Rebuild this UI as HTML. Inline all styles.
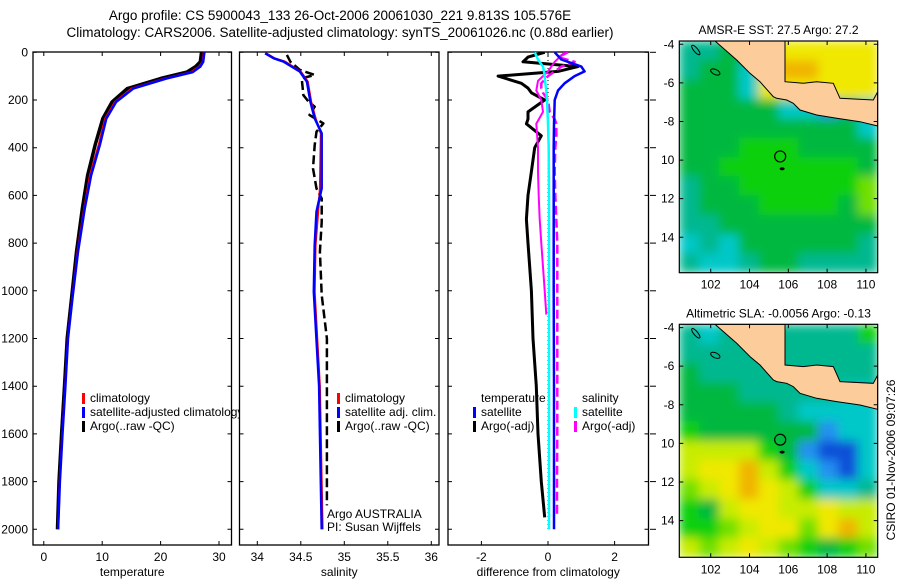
<!DOCTYPE html>
<html><head><meta charset="utf-8">
<style>
html,body{margin:0;padding:0;background:#fff;}
svg{display:block;font-family:"Liberation Sans",sans-serif;}
text{font-size:12px;fill:#000;}
</style></head>
<body>
<svg id="chart" width="900" height="580" viewBox="0 0 900 580" xmlns="http://www.w3.org/2000/svg">
<defs>
<clipPath id="cp1"><rect x="33" y="52" width="206" height="493"/></clipPath>
<clipPath id="cp2"><rect x="239.5" y="52" width="200" height="493"/></clipPath>
<clipPath id="cp3"><rect x="448" y="52" width="200.5" height="493"/></clipPath>
<clipPath id="cm1"><rect x="679.3" y="41" width="198.4" height="231.7"/></clipPath>
<clipPath id="cm2"><rect x="679.3" y="324.3" width="198.4" height="233"/></clipPath>
<filter id="soft" x="-5%" y="-5%" width="110%" height="110%"><feGaussianBlur stdDeviation="5" edgeMode="duplicate"/></filter>
</defs>
<text x="340" y="20" text-anchor="middle" style="font-size:13.5px">Argo profile: CS 5900043_133 26-Oct-2006 20061030_221 9.813S 105.576E</text>
<text x="340" y="37" text-anchor="middle" style="font-size:13.5px">Climatology: CARS2006. Satellite-adjusted climatology: synTS_20061026.nc (0.88d earlier)</text>
<g id="g1"></g>
<g id="g2"></g>
<g id="g3"></g>
<g id="m1"></g>
<g id="m2"></g>
<text transform="translate(895,460) rotate(-90)" text-anchor="middle">CSIRO 01-Nov-2006 09:07:26</text>
</svg>
<script>
// ---- profile data ----
const depthT = [0,40,60,83,110,152,208,278,388,516,656,837,1033,1200,1400,1600,1800,2000];
const tempSat = [27.5,27.3,26.8,25.5,21.0,15.3,12.4,10.7,9.6,8.1,7.0,5.85,4.9,4.15,3.7,3.2,2.75,2.45];
const tempClim = [27.4,27.2,26.6,25.2,20.7,15.0,12.2,10.5,9.4,7.9,6.9,5.75,4.85,4.1,3.65,3.15,2.7,2.42];
const tempArgo = [27.0,26.8,26.0,24.5,20.0,14.3,11.7,10.1,8.8,7.5,6.6,5.6,4.75,4.0,3.55,3.05,2.6,2.35];
const depthS = [11,40,74,95,109,180,207,228,263,298,333,389,487,571,613,712,836,1017,1200,1400,1600,1800,1900];
const salArgo = [34.34,34.38,34.49,34.66,34.51,34.53,34.59,34.66,34.6,34.76,34.68,34.66,34.64,34.68,34.74,34.74,34.72,34.74,34.8,34.8,34.8,34.8,34.8];
const depthSC = [4,25,39,81,123,207,277,340,570,668,808,1004,1400,1800,2000];
const salSat = [34.09,34.19,34.3,34.49,34.57,34.61,34.66,34.74,34.74,34.68,34.66,34.65,34.71,34.73,34.74];
const salClim = [34.1,34.2,34.32,34.5,34.58,34.62,34.67,34.73,34.72,34.7,34.67,34.66,34.72,34.74,34.75];
const depthD1 = [0,30,50,60,80,100,130,160,200,300,400,600,800,1000,1400,1800,2000];
const diffTSat = [0.2,0.4,0.8,1.0,1.1,0.8,0.5,0.3,0.2,0.18,0.17,0.17,0.17,0.17,0.18,0.18,0.18];
const diffSSat = [-0.4,-0.3,-0.2,-0.15,-0.12,-0.1,-0.08,-0.05,-0.03,0,0.02,0.03,0.03,0.03,0.03,0.03,0.03];
const depthD2 = [0,20,40,60,80,100,130,150,170,200,250,280,300,350,400,500,600,700,800,900,1000,1200,1400,1600,1800,1950];
const diffTArgo = [-0.1,-0.6,-0.75,0.9,0.3,-1.5,-0.8,-0.6,-0.5,-0.1,-0.6,-0.6,-0.65,-0.2,-0.4,-0.5,-0.6,-0.65,-0.6,-0.55,-0.5,-0.45,-0.35,-0.3,-0.2,-0.1];
const diffSArgoDash = [0.6,0.3,0.8,0.4,0.2,0.0,-0.2,-0.2,-0.15,0.0,0.05,0.2,0.25,0.25,0.22,0.2,0.22,0.25,0.28,0.28,0.28,0.28,0.28,0.28,0.27,0.27];
const depthD3 = [0,40,80,120,160,200,250,300,400,500,600,700,800,900,1000,1100];
const diffSArgo = [0.5,0.2,0.0,-0.3,-0.35,-0.2,-0.15,-0.35,-0.3,-0.3,-0.28,-0.25,-0.2,-0.15,-0.1,-0.05];
const depthTicks = [0,200,400,600,800,1000,1200,1400,1600,1800,2000];
const tTicks = [0,10,20,30];
const sTicks = [34,34.5,35,35.5,36];
const dTicks = [-2,0,2];
// ---- map data (color code grids, 10 cols x 12 rows) ----
const lonTicks = [102,104,106,108,110];
const latTicks = [-4,-6,-8,-10,-12,-14];
const latLabels = ['-4','-6','-8','10','12','14'];
const sstGrid = ["ttggoYYYYY","tggcYooYYY","gggcYYYYYY","gggggccbtc","gggggggggc","gggGGGgggg","ggGGGGGGGg","tggGGGGGGl","tgggGGGGgl","ttgggggggg","ctcggggggt","tcctggtttt"];
const slaGrid = ["tctttttttG","tttttttttt","gttttttttt","gggtttttcc","gggggtcccc","Gggggggbcc","yyyyGgbBBc","yYYoyGcbBc","lyYoYyGcct","GgyYYyyYyy","GGlyYYlYoy","ylyYylGgGl"];
const palette = {c:'#00c8c8',t:'#00b890',g:'#00b840',G:'#10d010',l:'#70e000',y:'#c8ec00',Y:'#f0e800',o:'#f0b400',b:'#2090f0',B:'#1050d8'};

const NS='http://www.w3.org/2000/svg';
function el(tag, attrs, parent){const e=document.createElementNS(NS,tag);for(const k in attrs)e.setAttribute(k,attrs[k]);parent.appendChild(e);return e;}
const yD = d => 52.3 + d*0.2385;
const xT = t => 43.8 + t*5.84;
const xS = s => 257.3 + (s-34)*87;
const xD = v => 548 + v*33.3;

function panel(g, x0, x1, xs, ticks, labelY, title){
  const r=el('rect',{x:x0,y:52,width:x1-x0,height:493,fill:'#fff',stroke:'#000','stroke-width':1.3},g);
  
  
  depthTicks.forEach(d=>{
    const y=yD(d);
    const a=el('path',{d:`M${x0},${y}h4M${x1},${y}h-4`,stroke:'#000'},g);
    
    
    if(labelY){
      const t=el('text',{x:x0-5,y:y+4,'text-anchor':'end'},g);t.textContent=d;
      
      
    }
  });
  ticks.forEach(v=>{
    const x=xs(v);
    const a=el('path',{d:`M${x},545v-4M${x},52v4`,stroke:'#000'},g);
    
    
    const t=el('text',{x:x,y:561,'text-anchor':'middle'},g);t.textContent=v;
    
    
  });
  const t=el('text',{x:(x0+x1)/2,y:576,'text-anchor':'middle'},g);t.textContent=title;
  
  
}
function line(g, depths, vals, xs, color, w, dash, name){
  const d=depths.map((dd,i)=>(i?'L':'M')+xs(vals[i]).toFixed(1)+','+yD(dd).toFixed(1)).join('');
  const p=el('path',{d:d,fill:'none',stroke:color,'stroke-width':w,'stroke-linejoin':'round'},g);
  if(dash)p.setAttribute('stroke-dasharray',dash);
  
  
}
function legend(g, x, y, color, label, name){
  const r=el('rect',{x:x,y:y-9,width:3,height:11,fill:color},g);
  
  
  const t=el('text',{x:x+8,y:y},g);t.textContent=label;
  
  
}

// Panel 1
const g1=document.getElementById('g1');
panel(g1,33,231.5,xT,tTicks,true,'temperature');
const c1=el('g',{'clip-path':'url(#cp1)'},g1);
line(c1,depthT,tempArgo,xT,'#000',3.5,null,'temp-argo-line');
line(c1,depthT,tempClim,xT,'#f00',2,null,'temp-climatology-line');
line(c1,depthT,tempSat,xT,'#00f',2.5,null,'temp-satellite-line');
legend(c1,82,402,'#f00','climatology','legend-climatology');
legend(c1,82,416,'#00f','satellite-adjusted climatology','legend-satellite-adjusted');
legend(c1,82,430,'#000','Argo(..raw -QC)','legend-argo');

// Panel 2
const g2=document.getElementById('g2');
panel(g2,239.5,439,xS,sTicks,false,'salinity');
const c2=el('g',{'clip-path':'url(#cp2)'},g2);
line(c2,depthS,salArgo,xS,'#000',2.5,'9,4','sal-argo-line');
line(c2,depthSC,salClim,xS,'#f00',2,null,'sal-climatology-line');
line(c2,depthSC,salSat,xS,'#00f',2.5,null,'sal-satellite-line');
legend(c2,337,402,'#f00','climatology','legend-climatology');
legend(c2,337,416,'#00f','satellite adj. clim.','legend-satellite-adj');
legend(c2,337,430,'#000','Argo(..raw -QC)','legend-argo');
[['Argo AUSTRALIA',518],['PI: Susan Wijffels',531]].forEach(a=>{
  const t=el('text',{x:327,y:a[1]},g2);t.textContent=a[0];
  
  
});

// Panel 3
const g3=document.getElementById('g3');
panel(g3,448,648.5,xD,dTicks,false,'difference from climatology');
depthTicks.forEach(d=>{const a=el('path',{d:`M650,${yD(d)}h6`,stroke:'#000'},g3);
  
  });
const c3=el('g',{'clip-path':'url(#cp3)'},g3);
const z=el('path',{d:`M${xD(0)},56V530`,stroke:'#000','stroke-dasharray':'1,3'},c3);


line(c3,depthD2,diffTArgo,xD,'#000',3,null,'diff-temp-argo-line');
line(c3,depthD3,diffSArgo,xD,'#f0f',2,null,'diff-sal-argo-solid-line');
line(c3,depthD2,diffSArgoDash,xD,'#f0f',2.5,'9,4','diff-sal-argo-line');
line(c3,depthD1,diffTSat,xD,'#00f',2.5,null,'diff-temp-satellite-line');
line(c3,depthD1,diffSSat,xD,'#0ff',2.5,null,'diff-sal-satellite-line');
const tt=el('text',{x:481,y:402},c3);tt.textContent='temperature';


legend(c3,473,416,'#00f','satellite','legend-temp-satellite');
legend(c3,473,430,'#000','Argo(-adj)','legend-temp-argo');
const st=el('text',{x:582,y:402},c3);st.textContent='salinity';


legend(c3,574,416,'#0ff','satellite','legend-sal-satellite');
legend(c3,574,430,'#f0f','Argo(-adj)','legend-sal-argo');

// Maps
const land=[[165,63],[375,63],[375,185],[430,190],[470,185],[520,190],[540,235],[640,240],[653,215],[653,318],[600,305],[530,295],[470,285],[420,270],[400,250],[380,240],[350,235],[340,230],[300,185],[270,160],[230,120]];
function map(g, y0, y1, grid, title, clipId){
  const x0=679.3,x1=877.7;
  const cw=(x1-x0)/10,ch=(y1-y0)/12;
  const c=el('g',{'clip-path':`url(#${clipId})`},g);
  const f=el('g',{filter:'url(#soft)'},c);
  grid.forEach((row,r)=>{[...row].forEach((k,col)=>{
    const cell=el('rect',{x:(x0+col*cw).toFixed(1),y:(y0+r*ch).toFixed(1),width:(cw+0.6).toFixed(1),height:(ch+0.6).toFixed(1),fill:palette[k]},f);
    
    
  });});
  const pts=land.map(p=>(p[0]/3-19.3+x0).toFixed(1)+','+(p[1]/3-21+y0).toFixed(1)).join(' ');
  const lp=el('polygon',{points:pts,fill:'#fccc9a',stroke:'#000','stroke-width':1},c);
  
  
  const isl=el('ellipse',{cx:x0+16.5,cy:y0+9,rx:2,ry:6,fill:'none',stroke:'#000',transform:`rotate(-40 ${x0+16.5} ${y0+9})`},c);
  
  
  const isl2=el('ellipse',{cx:x0+36,cy:y0+31,rx:5,ry:2.5,fill:'none',stroke:'#000',transform:`rotate(25 ${x0+36} ${y0+31})`},c);
  
  
  const lx=lon=>x0+(lon-100.38)*19.4;
  const ly=lat=>y0+(-3.83-lat)*19.3;
  const circ=el('circle',{cx:lx(105.58),cy:ly(-9.81),r:5.5,fill:'none',stroke:'#000','stroke-width':1.2},c);
  
  
  const dot=el('ellipse',{cx:lx(105.68),cy:ly(-10.45),rx:2.5,ry:1.5,fill:'#000'},c);
  
  
  const fr=el('rect',{x:x0,y:y0,width:x1-x0,height:y1-y0,fill:'none',stroke:'#000','stroke-width':1.2},g);
  
  
  lonTicks.forEach(v=>{const x=lx(v);
    const a=el('path',{d:`M${x},${y0}v4M${x},${y1}v-4`,stroke:'#000'},g);
    
    
    const t=el('text',{x:x,y:y1+16,'text-anchor':'middle'},g);t.textContent=v;
    
    });
  latTicks.forEach((v,i)=>{const y=ly(v);
    const a=el('path',{d:`M${x0},${y}h4M${x1},${y}h-4`,stroke:'#000'},g);
    
    
    const t=el('text',{x:x0-5,y:y+4,'text-anchor':'end'},g);t.textContent=latLabels[i];
    
    });
  const t=el('text',{x:(x0+x1)/2,y:y0-7,'text-anchor':'middle'},g);t.textContent=title;
  
  
}
map(document.getElementById('m1'),41,272.7,sstGrid,'AMSR-E SST: 27.5 Argo: 27.2','cm1');
map(document.getElementById('m2'),324.3,557.3,slaGrid,'Altimetric SLA: -0.0056 Argo: -0.13','cm2');
</script>
</body></html>
